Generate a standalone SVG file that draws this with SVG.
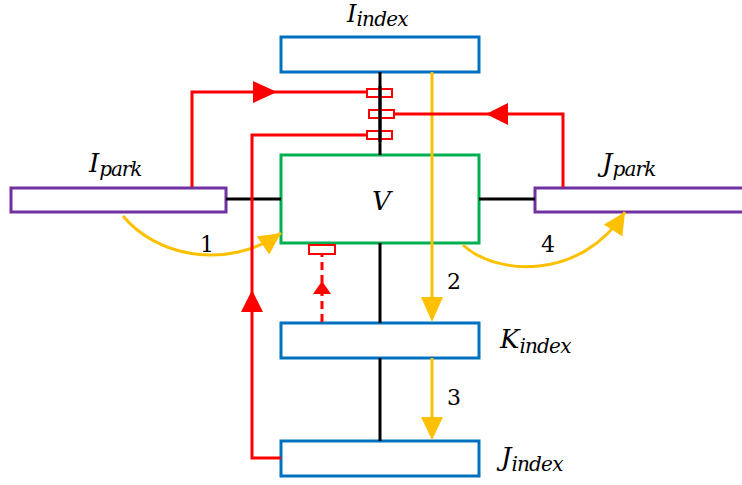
<svg xmlns="http://www.w3.org/2000/svg" width="742" height="485" viewBox="0 0 742 485">
<style>
.idx{fill:#fff;stroke:#0070C0;stroke-width:3}
.park{fill:#fff;stroke:#7030A0;stroke-width:3}
.v{fill:#fff;stroke:#00B050;stroke-width:3}
.blk{fill:none;stroke:#000;stroke-width:3}
.red{fill:none;stroke:#FF0000;stroke-width:3}
.redf{fill:#FF0000;stroke:none}
.yel{fill:none;stroke:#FFC000;stroke-width:3}
.yelf{fill:#FFC000;stroke:none}
.lab{font-family:"DejaVu Serif","Liberation Serif",serif;font-style:italic;fill:#000}
.num{font-family:"DejaVu Serif","Liberation Serif",serif;font-size:22px;fill:#000}
</style>
<defs>
<marker id="ya" markerUnits="userSpaceOnUse" markerWidth="26" markerHeight="26" refX="22" refY="11" orient="auto">
<polygon points="0,0 22,11 0,22" fill="#FFC000"/>
</marker>
</defs>
<g id="node-Iindex">
<rect class="idx" x="281" y="37" width="198" height="35"/>
<text class="lab" x="347" y="22" font-size="24">I<tspan font-size="20" dy="4" textLength="52">index</tspan></text>
</g>
<g id="node-V">
<rect class="v" x="281" y="155" width="198" height="88"/>
<text class="lab" x="372" y="210" font-size="26">V</text>
</g>
<g id="node-Ipark">
<rect class="park" x="11" y="188" width="215" height="24"/>
<text class="lab" x="89" y="172" font-size="26">I<tspan font-size="20" dy="4" textLength="43">park</tspan></text>
</g>
<g id="node-Jpark">
<rect class="park" x="535" y="188" width="215" height="24"/>
<text class="lab" x="602" y="172" font-size="26">J<tspan font-size="20" dy="4" textLength="44">park</tspan></text>
</g>
<g id="node-Kindex">
<rect class="idx" x="281" y="323" width="198" height="35"/>
<text class="lab" x="500" y="348" font-size="26">K<tspan font-size="20" dy="5" textLength="52">index</tspan></text>
</g>
<g id="node-Jindex">
<rect class="idx" x="281" y="441" width="198" height="35"/>
<text class="lab" x="501" y="466" font-size="26">J<tspan font-size="20" dy="5" textLength="52">index</tspan></text>
</g>
<g id="connectors">
<line class="blk" x1="380" y1="72" x2="380" y2="155"/>
<line class="blk" x1="380" y1="243" x2="380" y2="323"/>
<line class="blk" x1="380" y1="358" x2="380" y2="441"/>
<line class="blk" x1="226" y1="199" x2="281" y2="199"/>
<line class="blk" x1="479" y1="199" x2="535" y2="199"/>
<path class="yel" d="M123,216 C155,255 225,272 281,233" marker-end="url(#ya)"/>
<path class="yel" d="M463,245 C495,275 580,282 625,212" marker-end="url(#ya)"/>
<line class="yel" x1="432" y1="72" x2="432" y2="300"/>
<polygon class="yelf" points="421,297 443,297 432,322"/>
<line class="yel" x1="432" y1="358" x2="432" y2="420"/>
<polygon class="yelf" points="421,417 443,417 432,440"/>
<path class="red" d="M192,187 V92 H367"/>
<polygon class="redf" points="253,81 277,92 253,103"/>
<path class="red" d="M563,187 V114 H394"/>
<polygon class="redf" points="486,114 508,103 508,125"/>
<path class="red" d="M367,135 H252 V458 H281"/>
<polygon class="redf" points="252,290 241,312 263,312"/>
<rect x="367" y="89" width="25" height="8" fill="none" stroke="#FF0000" stroke-width="2"/>
<rect x="369" y="110" width="25" height="8" fill="none" stroke="#FF0000" stroke-width="2"/>
<rect x="367" y="131" width="25" height="8" fill="none" stroke="#FF0000" stroke-width="2"/>
<line class="blk" x1="380" y1="86" x2="380" y2="142"/>
<rect x="309" y="245" width="26" height="9" fill="none" stroke="#FF0000" stroke-width="2"/>
<line class="red" x1="322" y1="322" x2="322" y2="254" stroke-dasharray="8,5"/>
<polygon class="redf" points="322,281 313,294 331,294"/>
<text class="num" x="200" y="252">1</text>
<text class="num" x="447" y="289">2</text>
<text class="num" x="447" y="405">3</text>
<text class="num" x="541" y="252">4</text>
</g>
</svg>
